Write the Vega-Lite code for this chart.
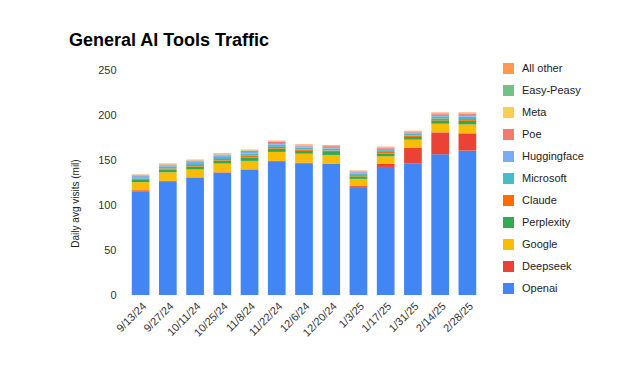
{
  "$schema": "https://vega.github.io/schema/vega-lite/v6.json",
  "autosize": "none",
  "width": 354,
  "height": 225,
  "padding": {"left": 127, "top": 70, "right": 144, "bottom": 82},
  "background": "#ffffff",
  "title": {
    "text": "General AI Tools Traffic",
    "anchor": "start",
    "frame": "group",
    "dx": -58,
    "offset": 13,
    "font": "Liberation Sans",
    "fontSize": 18,
    "fontWeight": "bold",
    "color": "#000000"
  },
  "data": {
    "values": [
      {"date": "9/13/24", "Openai": 115.4, "Deepseek": 1.0, "Google": 9.0, "Perplexity": 2.5, "Claude": 1.3, "Microsoft": 1.7, "Huggingface": 1.2, "Poe": 0.8, "Meta": 0.25, "Easy-Peasy": 0.25, "All other": 0.5},
      {"date": "9/27/24", "Openai": 126.3, "Deepseek": 0.5, "Google": 9.6, "Perplexity": 2.9, "Claude": 1.4, "Microsoft": 1.9, "Huggingface": 1.3, "Poe": 0.9, "Meta": 0.3, "Easy-Peasy": 0.3, "All other": 0.6},
      {"date": "10/11/24", "Openai": 130.4, "Deepseek": 0.5, "Google": 8.5, "Perplexity": 3.3, "Claude": 1.7, "Microsoft": 2.2, "Huggingface": 1.5, "Poe": 1.0, "Meta": 0.3, "Easy-Peasy": 0.3, "All other": 0.7},
      {"date": "10/25/24", "Openai": 135.9, "Deepseek": 0.5, "Google": 9.6, "Perplexity": 3.4, "Claude": 1.7, "Microsoft": 2.3, "Huggingface": 1.6, "Poe": 1.0, "Meta": 0.35, "Easy-Peasy": 0.35, "All other": 0.7},
      {"date": "11/8/24", "Openai": 139.3, "Deepseek": 0.5, "Google": 9.2, "Perplexity": 3.8, "Claude": 1.9, "Microsoft": 2.5, "Huggingface": 1.7, "Poe": 1.1, "Meta": 0.4, "Easy-Peasy": 0.4, "All other": 0.7},
      {"date": "11/22/24", "Openai": 148.5, "Deepseek": 0.5, "Google": 10.0, "Perplexity": 3.7, "Claude": 1.9, "Microsoft": 2.5, "Huggingface": 1.8, "Poe": 1.1, "Meta": 0.4, "Easy-Peasy": 0.4, "All other": 0.7},
      {"date": "12/6/24", "Openai": 146.0, "Deepseek": 1.0, "Google": 10.0, "Perplexity": 3.1, "Claude": 1.6, "Microsoft": 2.1, "Huggingface": 1.4, "Poe": 0.9, "Meta": 0.3, "Easy-Peasy": 0.3, "All other": 0.7},
      {"date": "12/20/24", "Openai": 145.5, "Deepseek": 0.5, "Google": 9.6, "Perplexity": 3.3, "Claude": 1.7, "Microsoft": 2.2, "Huggingface": 1.6, "Poe": 1.0, "Meta": 0.3, "Easy-Peasy": 0.3, "All other": 0.7},
      {"date": "1/3/25", "Openai": 119.1, "Deepseek": 1.9, "Google": 8.0, "Perplexity": 2.8, "Claude": 1.4, "Microsoft": 1.9, "Huggingface": 1.3, "Poe": 0.8, "Meta": 0.3, "Easy-Peasy": 0.3, "All other": 0.5},
      {"date": "1/17/25", "Openai": 142.3, "Deepseek": 3.3, "Google": 8.5, "Perplexity": 3.2, "Claude": 1.6, "Microsoft": 2.1, "Huggingface": 1.5, "Poe": 1.0, "Meta": 0.3, "Easy-Peasy": 0.3, "All other": 0.7},
      {"date": "1/31/25", "Openai": 146.4, "Deepseek": 17.3, "Google": 8.9, "Perplexity": 3.0, "Claude": 1.5, "Microsoft": 2.0, "Huggingface": 1.4, "Poe": 0.9, "Meta": 0.3, "Easy-Peasy": 0.3, "All other": 0.5},
      {"date": "2/14/25", "Openai": 156.3, "Deepseek": 24.4, "Google": 9.6, "Perplexity": 3.8, "Claude": 1.9, "Microsoft": 2.5, "Huggingface": 1.7, "Poe": 1.1, "Meta": 0.4, "Easy-Peasy": 0.4, "All other": 0.7},
      {"date": "2/28/25", "Openai": 160.4, "Deepseek": 19.2, "Google": 9.9, "Perplexity": 4.0, "Claude": 2.0, "Microsoft": 2.7, "Huggingface": 1.9, "Poe": 1.2, "Meta": 0.4, "Easy-Peasy": 0.4, "All other": 0.7}
    ]
  },
  "transform": [
    {"fold": ["Openai", "Deepseek", "Google", "Perplexity", "Claude", "Microsoft", "Huggingface", "Poe", "Meta", "Easy-Peasy", "All other"], "as": ["source", "visits"]},
    {"calculate": "indexof(['Openai','Deepseek','Google','Perplexity','Claude','Microsoft','Huggingface','Poe','Meta','Easy-Peasy','All other'], datum.source)", "as": "stackOrder"}
  ],
  "mark": {"type": "bar"},
  "encoding": {
    "x": {
      "field": "date",
      "type": "nominal",
      "sort": null,
      "scale": {"paddingInner": 0.35, "paddingOuter": 0.175},
      "axis": {
        "title": null,
        "labelAngle": -45,
        "labelFont": "Liberation Sans",
        "labelFontSize": 11,
        "labelColor": "#333333",
        "labelPadding": 5,
        "ticks": false,
        "domain": false
      }
    },
    "y": {
      "field": "visits",
      "type": "quantitative",
      "aggregate": "sum",
      "stack": "zero",
      "scale": {"domain": [0, 250], "nice": false},
      "axis": {
        "title": "Daily avg visits (mil)",
        "values": [0, 50, 100, 150, 200, 250],
        "grid": false,
        "domain": false,
        "ticks": false,
        "labelPadding": 11,
        "labelFont": "Liberation Sans",
        "labelFontSize": 11,
        "labelColor": "#333333",
        "titleFont": "Liberation Sans",
        "titleFontSize": 10,
        "titleFontWeight": "normal",
        "titleColor": "#222222",
        "titlePadding": 17,
        "titleY": 133
      }
    },
    "color": {
      "field": "source",
      "type": "nominal",
      "scale": {
        "domain": ["All other", "Easy-Peasy", "Meta", "Poe", "Huggingface", "Microsoft", "Claude", "Perplexity", "Google", "Deepseek", "Openai"],
        "range": ["#FF994D", "#71C287", "#FCD04F", "#F07B72", "#7BAAF7", "#46BDC6", "#FF6D01", "#34A853", "#FBBC04", "#EA4335", "#4285F4"]
      },
      "legend": {
        "title": null,
        "orient": "none",
        "legendX": 376,
        "legendY": -7,
        "padding": 0,
        "symbolType": "square",
        "symbolSize": 121,
        "symbolStrokeWidth": 0,
        "symbolOpacity": 1,
        "labelFont": "Liberation Sans",
        "labelFontSize": 11,
        "labelColor": "#222222",
        "labelOffset": 8,
        "rowPadding": 10
      }
    },
    "order": {"field": "stackOrder", "type": "quantitative", "sort": "ascending"}
  },
  "config": {"view": {"stroke": null}}
}
